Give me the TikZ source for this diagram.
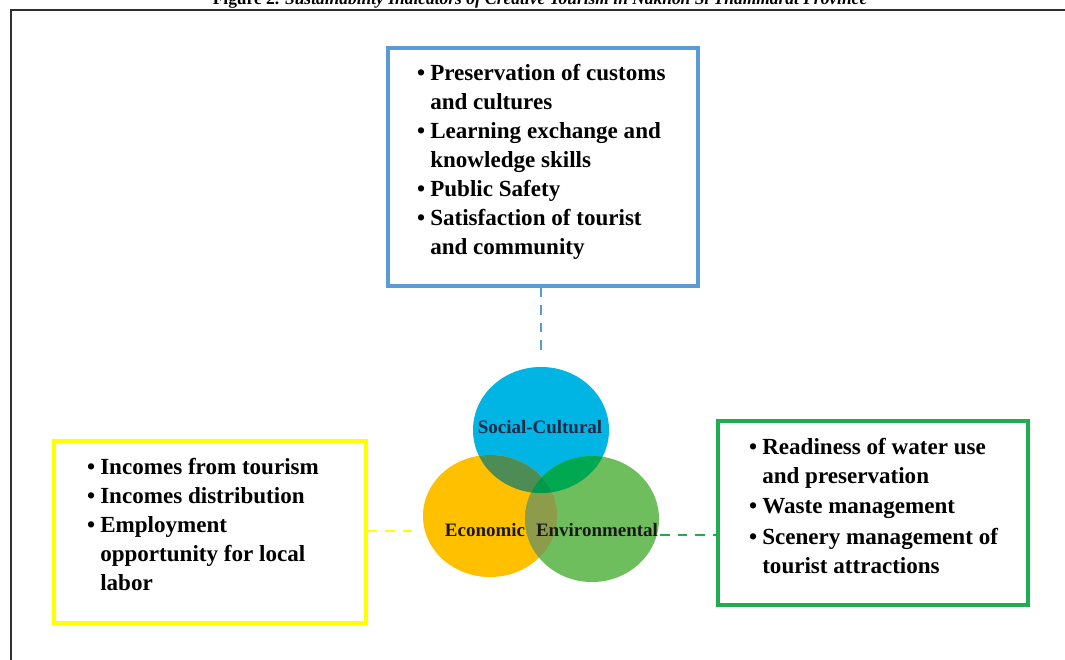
\documentclass[tikz,border=0pt]{standalone}
\usepackage{fontspec}
\setmainfont{Liberation Serif}
\usetikzlibrary{fit}

\definecolor{boxblue}{HTML}{5B9BD5}
\definecolor{boxyellow}{HTML}{FFFF00}
\definecolor{boxgreen}{HTML}{1EAE50}
\definecolor{socfill}{HTML}{00B4E4}
\definecolor{ecofill}{HTML}{FFC000}
\definecolor{envfill}{HTML}{6EBE5E}
\definecolor{socecofill}{HTML}{4E8C55}
\definecolor{socenvfill}{HTML}{00A852}
\definecolor{ecoenvfill}{HTML}{8C9C4A}
\definecolor{allfill}{HTML}{00984A}
\definecolor{navytext}{HTML}{1A2A4A}
\definecolor{framegray}{HTML}{303030}

\newcommand{\itm}{\llap{\textbullet\hspace{0.13cm}}}

\begin{document}
\begin{tikzpicture}[x=0.025cm, y=-0.025cm,
    listbox/.style={draw, line width=2.2pt, inner sep=0pt},
    listtext/.style={anchor=north west, inner sep=0pt, align=left,
      font=\fontsize{16.4}{20.6}\selectfont\bfseries},
    venntext/.style={inner sep=0pt, font=\fontsize{13.5}{16}\selectfont\bfseries},
    link/.style={line width=1.8pt, dash pattern=on 0.24cm off 0.2cm}]
  \useasboundingbox (0,0) rectangle (1065,659);

  % Caption (cut at the top) and frame
  \node[anchor=base, inner sep=0pt, font=\fontsize{12.4}{14}\selectfont\bfseries] (caption) at (540,4)
    {Figure 2. \textit{Sustainability Indicators of Creative Tourism in Nakhon Si Thammarat Province}};
  \draw[framegray, line width=1.9pt] (11,700) -- (11,10) -- (1100,10);

  % Venn circles
  \coordinate (socc) at (541,430);
  \coordinate (ecoc) at (490,516);
  \coordinate (envc) at (592,519);
  \fill[socfill] (socc) ellipse [x radius=1.7cm, y radius=1.575cm];
  \fill[ecofill] (ecoc) ellipse [x radius=1.675cm, y radius=1.525cm];
  \fill[envfill] (envc) ellipse [x radius=1.675cm, y radius=1.575cm];

  % Overlaps
  \begin{scope}
    \clip (socc) ellipse [x radius=1.7cm, y radius=1.575cm];
    \fill[socecofill] (ecoc) ellipse [x radius=1.675cm, y radius=1.525cm];
    \fill[socenvfill] (envc) ellipse [x radius=1.675cm, y radius=1.575cm];
  \end{scope}
  \begin{scope}
    \clip (ecoc) ellipse [x radius=1.675cm, y radius=1.525cm];
    \fill[ecoenvfill] (envc) ellipse [x radius=1.675cm, y radius=1.575cm];
  \end{scope}
  \begin{scope}
    \clip (socc) ellipse [x radius=1.7cm, y radius=1.575cm];
    \clip (ecoc) ellipse [x radius=1.675cm, y radius=1.525cm];
    \fill[allfill] (envc) ellipse [x radius=1.675cm, y radius=1.575cm];
  \end{scope}

  % Circle labels
  \node[venntext, text=navytext] (soctxt) at (540,427) {Social-Cultural};
  \node[venntext, text=black!90] (ecotxt) at (485,530) {Economic};
  \node[venntext, text=black!90] (envtxt) at (597,530) {Environmental};

  % Boxes
  \node[listbox, draw=boxblue, fit={(388,48) (698,286)}] (socbox) {};
  \node[listbox, draw=boxyellow, fit={(54,441) (366,623)}] (ecobox) {};
  \node[listbox, draw=boxgreen, fit={(718,421) (1028,605)}] (envbox) {};

  \node[listtext] (soclist) at (430,64) {\itm Preservation of customs\\ and cultures\\
    \itm Learning exchange and\\ knowledge skills\\ \itm Public Safety\\
    \itm Satisfaction of tourist\\ and community};
  \node[listtext] (ecolist) at (100,458) {\itm Incomes from tourism\\
    \itm Incomes distribution\\ \itm Employment\\ opportunity for local\\ labor};
  \node[listtext] (envlist) at (762,438) {\itm Readiness of water use\\ and preservation\\[1pt]
    \itm Waste management\\[1pt] \itm Scenery management of\\ tourist attractions};

  % Dashed links
  \coordinate (socend) at (541,357);
  \coordinate (ecoend) at (420,531);
  \coordinate (envstart) at (660,535);
  \draw[link, boxblue] (socbox.south -| socend) -- (socend);
  \draw[link, boxyellow] (ecobox.east |- ecoend) -- (ecoend);
  \draw[link, boxgreen] (envstart) -- (envstart -| envbox.west);
\end{tikzpicture}
\end{document}
